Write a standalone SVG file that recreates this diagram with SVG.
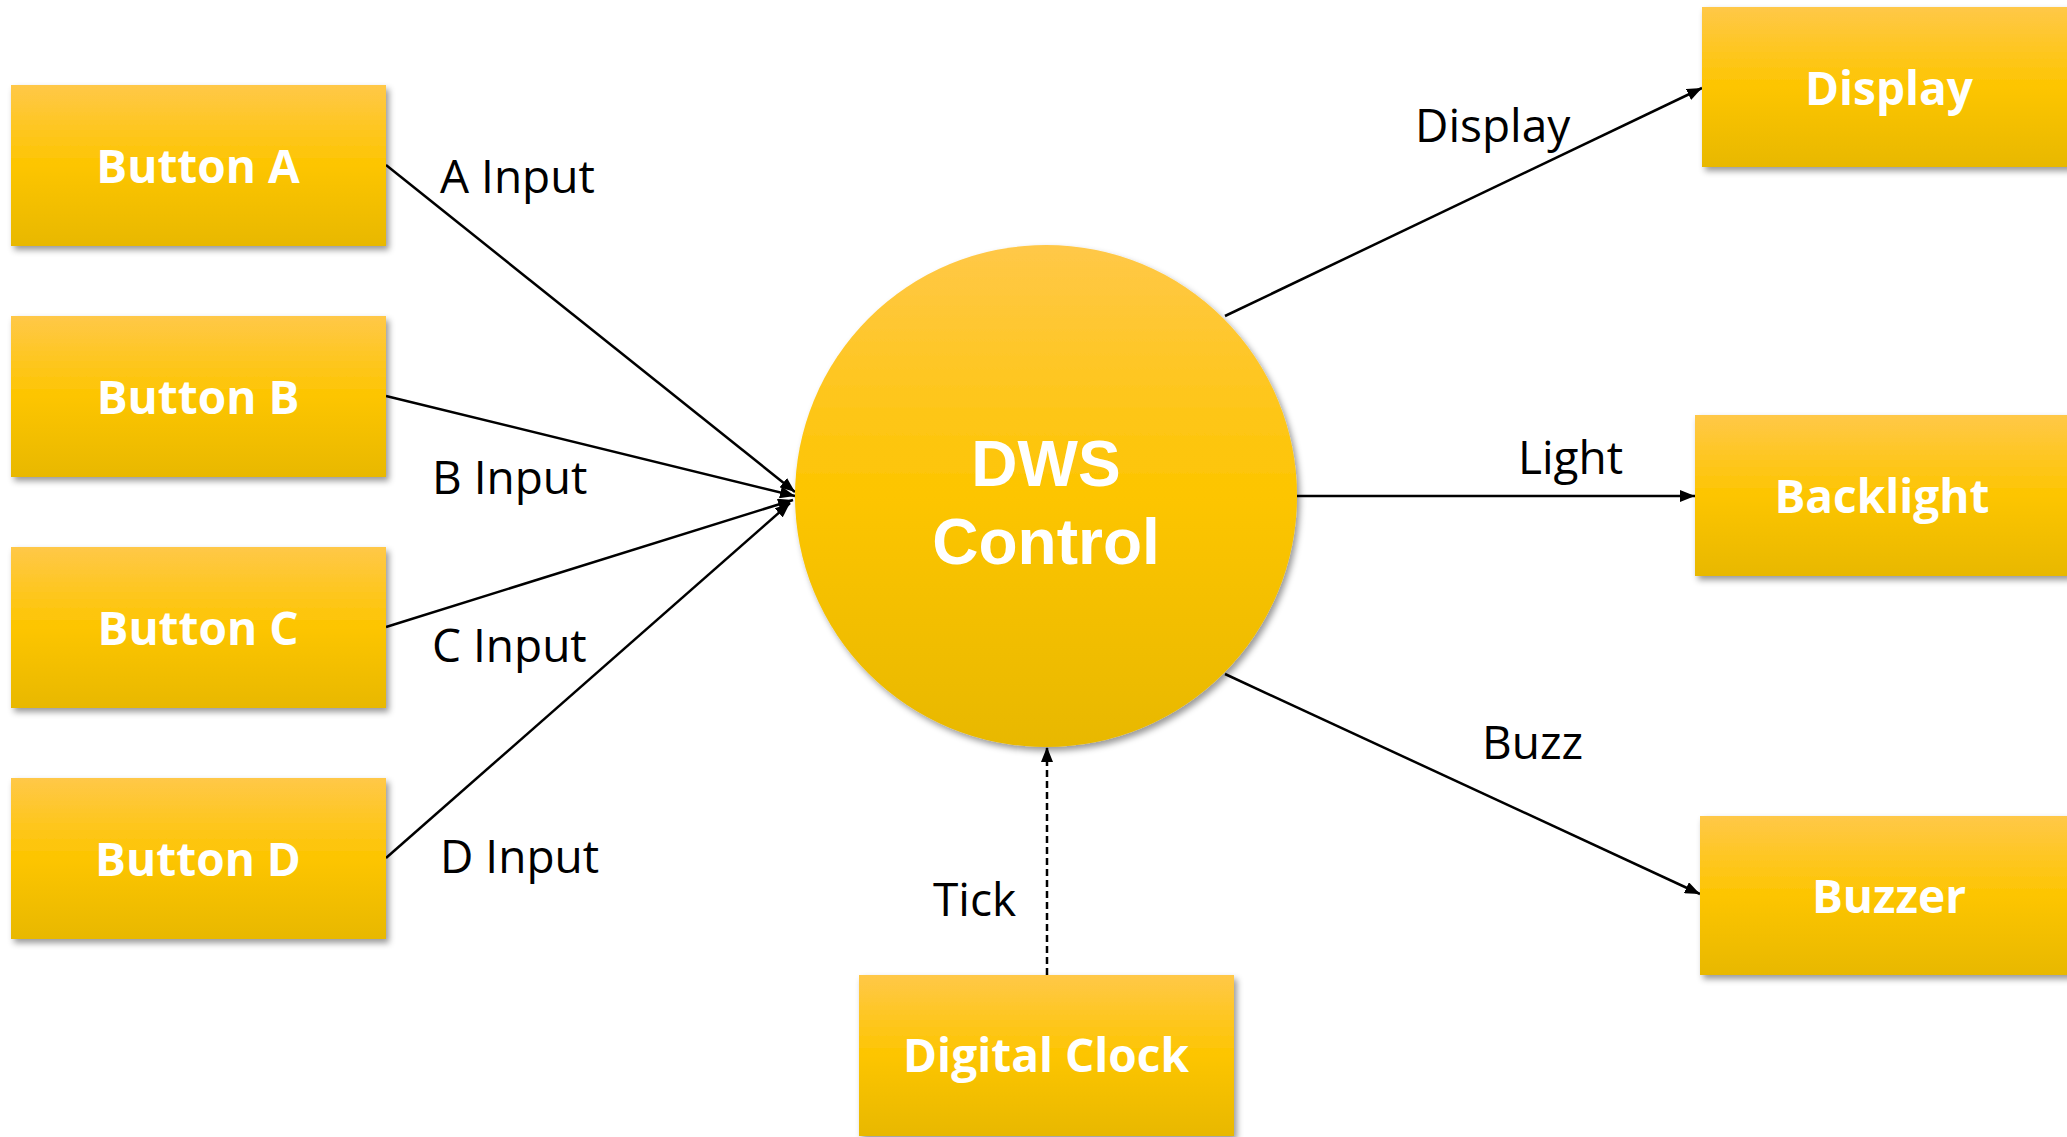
<svg xmlns="http://www.w3.org/2000/svg" width="2067" height="1137" viewBox="0 0 2067 1137">
<defs>
<linearGradient id="gold" x1="0" y1="0" x2="0" y2="1">
<stop offset="0" stop-color="#FFC848"/>
<stop offset="0.5" stop-color="#FDC500"/>
<stop offset="1" stop-color="#E8B800"/>
</linearGradient>
<filter id="shadow" x="-10%" y="-10%" width="125%" height="130%">
<feDropShadow dx="3" dy="4" stdDeviation="3" flood-color="#000" flood-opacity="0.4"/>
</filter>
<marker id="arrow" markerUnits="userSpaceOnUse" markerWidth="16" markerHeight="12" refX="15" refY="6" orient="auto">
<path d="M0,0 L15,6 L0,12 z" fill="#000"/>
</marker>
</defs>
<style>
.box{fill:url(#gold);filter:url(#shadow);}
.nt{fill:#fff;font-family:"Open Sans","Noto Sans","Liberation Sans",sans-serif;font-weight:bold;font-size:46px;text-anchor:middle;}
.big{font-family:"Liberation Sans",Arial,sans-serif;font-size:64px;}
.lbl{fill:#000;font-family:"Open Sans","Noto Sans","Liberation Sans",sans-serif;font-size:46px;}
.ln{stroke:#000;stroke-width:2.5;fill:none;marker-end:url(#arrow);}
.dash{stroke-dasharray:7,4;}
</style>
<rect width="2067" height="1137" fill="#fff"/>
<g id="connectors">
<line class="ln" x1="386" y1="165" x2="795" y2="492"/>
<line class="ln" x1="386" y1="396" x2="795" y2="496"/>
<line class="ln" x1="386" y1="627" x2="793" y2="500"/>
<line class="ln" x1="386" y1="858" x2="790" y2="503"/>
<line class="ln" x1="1225" y1="316" x2="1702" y2="88"/>
<line class="ln" x1="1297" y1="496" x2="1695" y2="496"/>
<line class="ln" x1="1225" y1="674" x2="1700" y2="894"/>
<line class="ln dash" x1="1047" y1="975" x2="1047" y2="747"/>
<text class="lbl" x="440" y="193">A Input</text>
<text class="lbl" x="432" y="494">B Input</text>
<text class="lbl" x="432" y="662">C Input</text>
<text class="lbl" x="440" y="873">D Input</text>
<text class="lbl" x="1415" y="142">Display</text>
<text class="lbl" x="1518" y="474">Light</text>
<text class="lbl" x="1482" y="759">Buzz</text>
<text class="lbl" x="933" y="916">Tick</text>
</g>
<g id="dws-control">
<circle class="box" cx="1046" cy="496" r="251"/>
<text class="nt big"><tspan x="1046" y="486">DWS</tspan><tspan x="1046" y="564">Control</tspan></text>
</g>
<g id="button-a">
<rect class="box" x="11" y="85" width="375" height="161"/>
<text class="nt" x="198" y="183">Button A</text>
</g>
<g id="button-b">
<rect class="box" x="11" y="316" width="375" height="161"/>
<text class="nt" x="198" y="414">Button B</text>
</g>
<g id="button-c">
<rect class="box" x="11" y="547" width="375" height="161"/>
<text class="nt" x="198" y="645">Button C</text>
</g>
<g id="button-d">
<rect class="box" x="11" y="778" width="375" height="161"/>
<text class="nt" x="198" y="876">Button D</text>
</g>
<g id="display">
<rect class="box" x="1702" y="7" width="375" height="160"/>
<text class="nt" x="1889" y="105">Display</text>
</g>
<g id="backlight">
<rect class="box" x="1695" y="415" width="375" height="161"/>
<text class="nt" x="1882" y="513">Backlight</text>
</g>
<g id="buzzer">
<rect class="box" x="1700" y="816" width="375" height="159"/>
<text class="nt" x="1889" y="913">Buzzer</text>
</g>
<g id="digital-clock">
<rect class="box" x="859" y="975" width="375" height="161"/>
<text class="nt" x="1046" y="1072">Digital Clock</text>
</g>
</svg>
